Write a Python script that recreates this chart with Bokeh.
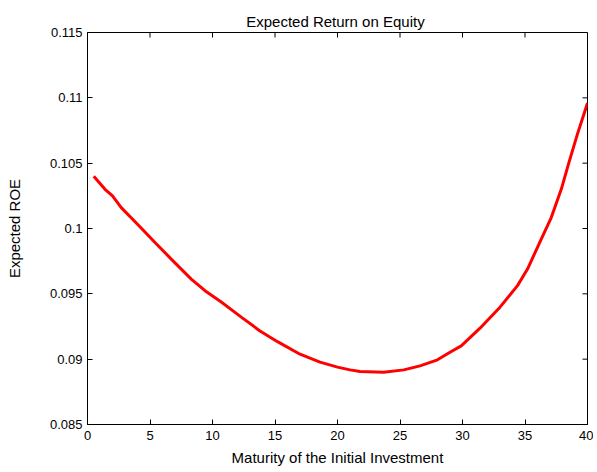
import math
from bokeh.plotting import figure
from bokeh.models import Range1d, FixedTicker
from bokeh.embed import file_html
from bokeh.resources import INLINE

# Data
maturity = [0.5, 1.4, 2.0, 2.7, 4.0, 5.4, 6.7, 8.3, 9.4, 10.7, 12.3, 13.8, 15.2,
            17.0, 18.6, 20.0, 21.0, 21.8, 23.7, 25.3, 26.6, 28.0, 29.0, 29.9, 31.4,
            33.0, 34.4, 35.2, 36.3, 37.1, 37.9, 38.5, 39.2, 40]
roe = [0.1040, 0.1030, 0.10249, 0.1016, 0.10033, 0.09893, 0.09766, 0.09613,
       0.09524, 0.09437, 0.09322, 0.09216, 0.09134, 0.09038, 0.08977, 0.08939,
       0.08918, 0.08905, 0.08900, 0.08918, 0.08949, 0.08995, 0.09053, 0.09102,
       0.09237, 0.09398, 0.09563, 0.0969, 0.09918, 0.10084, 0.103, 0.105,
       0.10724, 0.1096]
x_ticks = [0, 5, 10, 15, 20, 25, 30, 35, 40]
y_ticks = [0.085, 0.09, 0.095, 0.1, 0.105, 0.11, 0.115]
y_tick_labels = ["0.085", "0.09", "0.095", "0.1", "0.105", "0.11", "0.115"]

FONT = "Liberation Sans"
X_MIN, X_MAX = 0, 40
Y_MIN, Y_MAX = 0.085, 0.115

p = figure(width=593, height=468, output_backend="svg", toolbar_location=None,
           x_range=Range1d(X_MIN, X_MAX), y_range=Range1d(Y_MIN, Y_MAX),
           title="Expected  Return on Equity",
           min_border_left=87, min_border_right=6, min_border_top=32, min_border_bottom=43)

p.title.align = "center"
p.title.text_font = FONT
p.title.text_font_size = "15px"
p.title.text_font_style = "normal"
p.title.text_color = "black"
p.title.standoff = 6

p.xgrid.visible = False
p.ygrid.visible = False
p.outline_line_color = "black"
p.outline_line_width = 1
p.background_fill_color = "white"
p.border_fill_color = "white"

p.line(maturity, roe, line_color="#ff0000", line_width=3)

# inward ticks on the top and right edges of the box (MATLAB style)
p.ray(x=x_ticks, y=[Y_MAX] * len(x_ticks), length=5, length_units="screen",
      angle=-math.pi / 2, line_color="black", line_width=1)
p.ray(x=[X_MAX] * len(y_ticks), y=y_ticks, length=5, length_units="screen",
      angle=math.pi, line_color="black", line_width=1)

def style(ax, ticks):
    ax.ticker = FixedTicker(ticks=ticks)
    ax.major_tick_in = 5
    ax.major_tick_out = 0
    ax.minor_tick_line_color = None
    ax.axis_line_color = "black"
    ax.major_tick_line_color = "black"
    ax.major_label_text_font = FONT
    ax.major_label_text_font_size = "13px"
    ax.major_label_text_color = "black"
    ax.axis_label_text_font = FONT
    ax.axis_label_text_font_size = "15px"
    ax.axis_label_text_font_style = "normal"
    ax.axis_label_text_color = "black"

xa = p.xaxis[0]
style(xa, x_ticks)
xa.axis_label = "Maturity of the Initial Investment"
xa.major_label_standoff = 6
xa.axis_label_standoff = 6

ya = p.yaxis[0]
style(ya, y_ticks)
ya.major_label_overrides = {t: s for t, s in zip(y_ticks, y_tick_labels)}
ya.axis_label = "Expected ROE"
ya.major_label_standoff = 5
ya.axis_label_standoff = 24

open("out.html", "w").write(file_html(p, INLINE))
